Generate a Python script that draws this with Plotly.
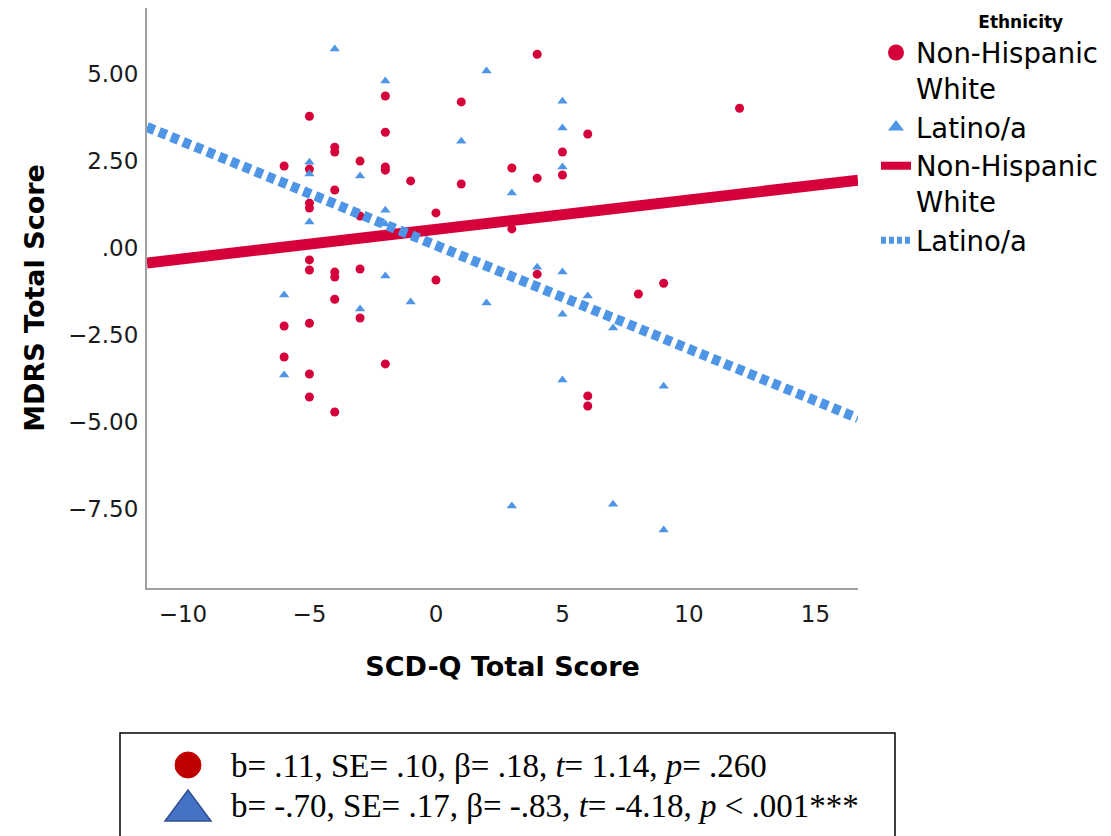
import plotly.graph_objects as go

# ---------------- data ----------------
nhw_x = [-6, -6, -6,
         -5, -5, -5, -5, -5, -5, -5, -5, -5,
         -4, -4, -4, -4, -4, -4, -4,
         -3, -3, -3, -3,
         -2, -2, -2, -2, -2,
         -1,
         0, 0,
         1, 1,
         3, 3,
         4, 4, 4,
         5, 5,
         6, 6, 6,
         8, 9, 12]
nhw_y = [2.36, -2.24, -3.13,
         3.79, 2.27, 1.29, 1.15, -0.34, -0.63, -2.16, -3.62, -4.28,
         2.90, 2.76, 1.67, -0.69, -0.83, -1.47, -4.71,
         2.50, 0.92, -0.60, -2.01,
         4.37, 3.33, 2.33, 2.24, -3.33,
         1.93,
         1.01, -0.92,
         4.20, 1.84,
         2.30, 0.55,
         5.57, 2.01, -0.75,
         2.76, 2.10,
         3.28, -4.25, -4.54,
         -1.32, -1.01, 4.02]

lat_x = [-6, -6,
         -5, -5, -5,
         -4,
         -3, -3,
         -2, -2, -2, -2,
         -1,
         1,
         2, 2,
         3, 3,
         4,
         5, 5, 5, 5, 5, 5,
         6,
         7, 7,
         9, 9]
lat_y = [-1.35, -3.65,
         2.47, 2.13, 0.75,
         5.72,
         2.07, -1.75,
         4.80, 1.09, 0.69, -0.80,
         -1.55,
         3.07,
         5.09, -1.58,
         1.58, -7.41,
         -0.55,
         4.22, 3.45, 2.33, -0.69, -1.90, -3.79,
         -1.38,
         -2.30, -7.36,
         -3.97, -8.10]

# fit lines (end points across the x range)
fit_x = [-11.42, 16.68]
nhw_fit_y = [-0.43, 1.95]
lat_fit_y = [3.48, -4.89]

x_range = [-11.42, 16.68]
y_range = [-9.77, 6.90]
x_tickvals = [-10, -5, 0, 5, 10, 15]
x_ticktext = ["\u221210", "\u22125", "0", "5", "10", "15"]
y_tickvals = [-7.5, -5, -2.5, 0, 2.5, 5]
y_ticktext = ["\u22127.50", "\u22125.00", "\u22122.50", ".00", "2.50", "5.00"]

legend_names = ["Non-Hispanic<br>White", "Latino/a"]
stats_lines = [
    "b= .11, SE= .10, \u03b2= .18, <i>t</i>= 1.14, <i>p</i>= .260",
    "b= -.70, SE= .17, \u03b2= -.83, <i>t</i>= -4.18, <i>p</i> &lt; .001***",
]

RED = "#D5003A"
BLUE = "#4E95E6"
FONT = "DejaVu Sans"

# page has an 8px body margin; figure sized to fit the 1111x836 window
OFF = 8
W, H = 1111 - OFF, 836 - OFF
PLOT_L, PLOT_R, PLOT_T, PLOT_B = 147, 858, 8, 588   # page pixel box of plot area
L, T = PLOT_L - OFF, PLOT_T - OFF
R, B = W - (PLOT_R - OFF), H - (PLOT_B - OFF)
PW, PH = PLOT_R - PLOT_L, PLOT_B - PLOT_T


def px(xp):
    return (xp - PLOT_L) / PW


def py(yp):
    return (PLOT_B - yp) / PH


fig = go.Figure()

# data markers
fig.add_trace(go.Scatter(x=nhw_x, y=nhw_y, mode="markers", showlegend=False,
                         marker=dict(symbol="circle", size=9, color=RED)))
fig.add_trace(go.Scatter(x=lat_x, y=lat_y, mode="markers", showlegend=False,
                         marker=dict(symbol="triangle-up", size=9, color=BLUE)))
# fit lines
fig.add_trace(go.Scatter(x=fit_x, y=nhw_fit_y, mode="lines", showlegend=False,
                         line=dict(color=RED, width=11)))
fig.add_trace(go.Scatter(x=fit_x, y=lat_fit_y, mode="lines", showlegend=False,
                         line=dict(color=BLUE, width=10, dash="8px,5px")))

# legend entries
fig.add_trace(go.Scatter(x=[None], y=[None], mode="markers", name=legend_names[0],
                         marker=dict(symbol="circle", size=20, color=RED)))
fig.add_trace(go.Scatter(x=[None], y=[None], mode="markers", name=legend_names[1],
                         marker=dict(symbol="triangle-up", size=14, color=BLUE)))
fig.add_trace(go.Scatter(x=[None], y=[None], mode="lines", name=legend_names[0],
                         line=dict(color=RED, width=8)))
fig.add_trace(go.Scatter(x=[None], y=[None], mode="lines", name=legend_names[1],
                         line=dict(color=BLUE, width=7, dash="5px,3px")))

axis_common = dict(showgrid=False, zeroline=False, showline=True, linecolor="#A0A0A0",
                   linewidth=2, ticks="", tickfont=dict(family=FONT, size=23, color="#1a1a1a"),
                   mirror=False)

fig.update_layout(
    width=W, height=H,
    margin=dict(l=L, r=R, t=T, b=B, autoexpand=False),
    paper_bgcolor="white", plot_bgcolor="white",
    font=dict(family=FONT, color="black"),
    xaxis=dict(range=x_range, tickvals=x_tickvals, ticktext=x_ticktext,
               ticklabelstandoff=4,
               title=dict(text="<b>SCD-Q Total Score</b>",
                          font=dict(family=FONT, size=27, color="black"), standoff=32),
               **axis_common),
    yaxis=dict(range=y_range, tickvals=y_tickvals, ticktext=y_ticktext,
               ticklabelstandoff=2,
               title=dict(text="<b>MDRS Total Score</b>",
                          font=dict(family=FONT, size=27, color="black"), standoff=15),
               **axis_common),
    legend=dict(x=px(876), y=py(6), xanchor="left", yanchor="top",
                font=dict(family=FONT, size=27.5, color="black"),
                title=dict(text="<b>Ethnicity</b>" + "\u00a0" * 7, side="top right",
                           font=dict(family=FONT, size=17, color="black")),
                itemsizing="trace", valign="top", tracegroupgap=0,
                bgcolor="rgba(0,0,0,0)", itemwidth=30),
)

# statistics box below the chart
fig.add_shape(type="rect", xref="paper", yref="paper",
              x0=px(120), x1=px(895), y0=py(850), y1=py(733),
              line=dict(color="black", width=1.5), fillcolor="white", layer="above")
fig.add_shape(type="circle", xref="paper", yref="paper",
              x0=px(175), x1=px(201), y0=py(778), y1=py(752),
              line=dict(color="#C00000", width=1), fillcolor="#C00000")
fig.add_shape(type="path", xref="paper", yref="paper",
              path=f"M {px(165)},{py(821)} L {px(211)},{py(821)} L {px(188)},{py(790)} Z",
              line=dict(color="#2F528F", width=1.5), fillcolor="#4472C4")
for i, txt in enumerate(stats_lines):
    fig.add_annotation(xref="paper", yref="paper", x=px(229), y=py(766 + 40 * i),
                       xanchor="left", yanchor="middle", showarrow=False, text=txt,
                       font=dict(family="Liberation Serif", size=33, color="black"))

fig.write_html("out.html")
